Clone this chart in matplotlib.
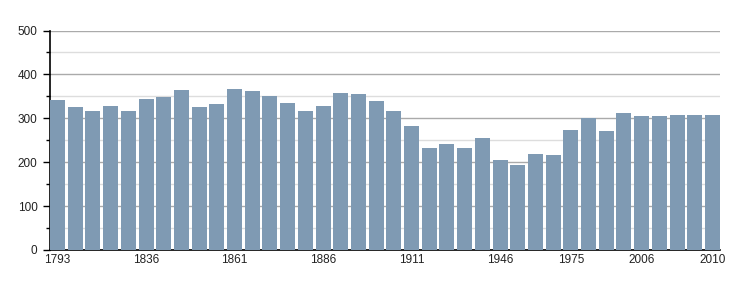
import matplotlib
matplotlib.use("Agg")
from matplotlib import pyplot as plt
from matplotlib.ticker import MultipleLocator

years = [1793, 1800, 1806, 1821, 1831, 1836, 1841, 1846, 1851, 1856,
         1861, 1866, 1872, 1876, 1881, 1886, 1891, 1896, 1901, 1906,
         1911, 1921, 1926, 1931, 1936, 1946, 1954, 1962, 1968, 1975,
         1982, 1990, 1999, 2006, 2007, 2008, 2009, 2010]
population = [342, 326, 317, 328, 317, 344, 349, 365, 326, 333,
              367, 362, 351, 335, 317, 328, 358, 356, 340, 317,
              283, 233, 242, 233, 255, 205, 194, 219, 217, 274,
              301, 271, 312, 306, 306, 308, 308, 308]
shown_labels = [1793, 1836, 1861, 1886, 1911, 1946, 1975, 2006, 2010]

plt.rcParams['font.family'] = ['Liberation Sans', 'DejaVu Sans']

fig = plt.figure(figsize=(7.5, 3), dpi=100)
ax = fig.add_axes([50 / 750, 50 / 300, 670 / 750, 219.5 / 300])

x = list(range(len(years)))
ax.bar(x, population, width=0.85, color='#7f9ab3', zorder=3)

ax.set_xlim(-0.5 + 0.075, len(years) - 0.5 - 0.075)
ax.set_ylim(0, 500)

# x labels only for some years
ax.set_xticks([i for i, y in enumerate(years) if y in shown_labels])
ax.set_xticklabels([str(y) for y in years if y in shown_labels])
ax.tick_params(axis='x', length=0, pad=3, labelsize=8.5, colors='#222222')

ax.yaxis.set_major_locator(MultipleLocator(100))
ax.yaxis.set_minor_locator(MultipleLocator(50))
ax.tick_params(axis='y', which='major', length=5, width=1, labelsize=8.5, pad=4, colors='black')
ax.tick_params(axis='y', which='minor', length=3, width=1)
for lab in ax.get_yticklabels():
    lab.set_color('#222222')

ax.grid(axis='y', which='major', color='#aaaaaa', linewidth=1)
ax.grid(axis='y', which='minor', color='#dddddd', linewidth=1)
ax.set_axisbelow(True)

ax.spines['top'].set_visible(False)
ax.spines['right'].set_visible(False)
ax.spines['left'].set_color('black')
ax.spines['bottom'].set_color('black')
ax.spines['left'].set_linewidth(1.2)
ax.spines['bottom'].set_linewidth(1.2)

fig.savefig('out.png', dpi=100)
